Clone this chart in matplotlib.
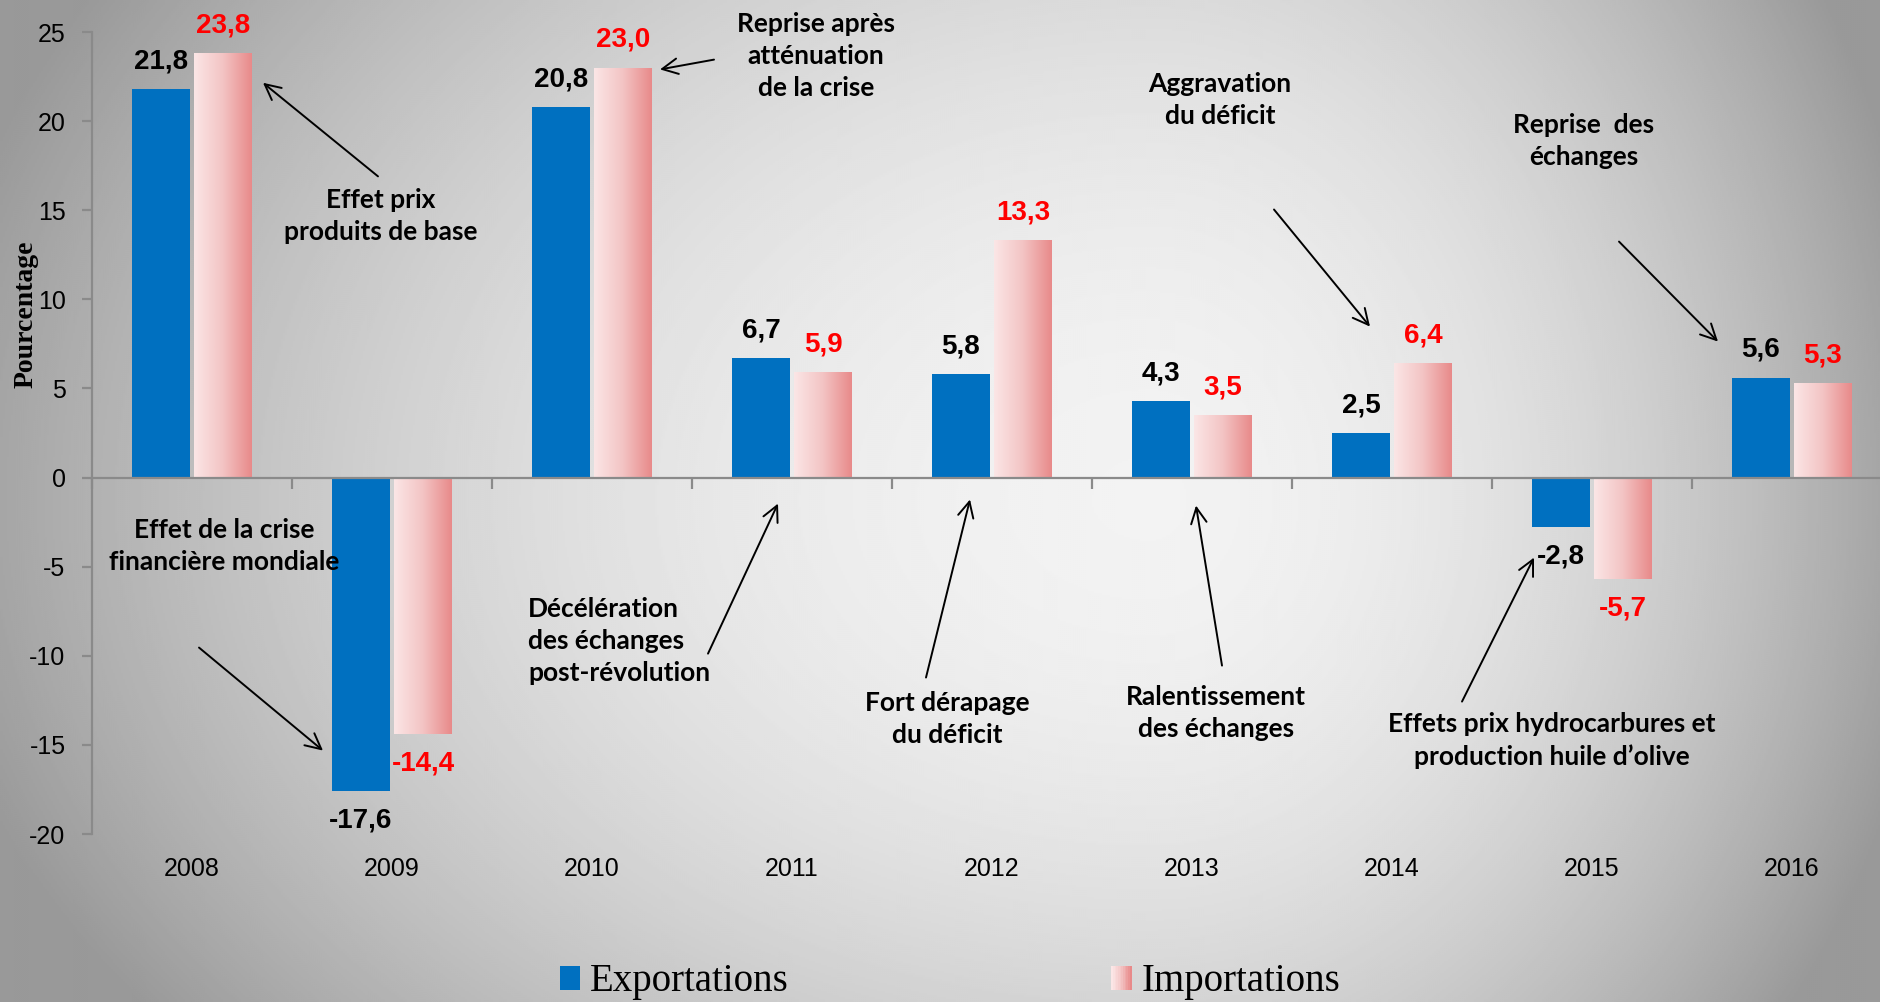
import numpy as np
import matplotlib
matplotlib.use("Agg")
import matplotlib.pyplot as plt
import matplotlib.transforms as mtransforms
from matplotlib.colors import LinearSegmentedColormap
from matplotlib.legend_handler import HandlerBase
from matplotlib.patches import Rectangle

# ---------------- data ----------------
years = ["2008", "2009", "2010", "2011", "2012", "2013", "2014", "2015", "2016"]
exportations = [21.8, -17.6, 20.8, 6.7, 5.8, 4.3, 2.5, -2.8, 5.6]
importations = [23.8, -14.4, 23.0, 5.9, 13.3, 3.5, 6.4, -5.7, 5.3]
series_labels = ["Exportations", "Importations"]
y_ticks = [-20, -15, -10, -5, 0, 5, 10, 15, 20, 25]
y_label = "Pourcentage"

# annotation texts (layout kept separately below)
notes = [
    "Effet prix\nproduits de base",
    "Reprise après\natténuation\nde la crise",
    "Aggravation\ndu déficit",
    "Reprise  des\néchanges",
    "Effet de la crise\nfinancière mondiale",
    "Décélération\ndes échanges\npost-révolution",
    "Fort dérapage\ndu déficit",
    "Ralentissement\ndes échanges",
    "Effets prix hydrocarbures et\nproduction huile d’olive",
]
# layout: (text x, text y, ha, arrow tail x, tail y, head x, head y) in data coords
note_layout = [
    (0.945, 14.65, "center", 0.93, 16.9, 0.355, 22.15),
    (3.12, 23.68, "center", 2.61, 23.45, 2.34, 22.9),
    (5.14, 21.16, "center", 5.41, 15.04, 5.89, 8.47),
    (6.96, 18.86, "center", 7.135, 13.24, 7.63, 7.63),
    (0.16, -3.82, "center", 0.035, -9.54, 0.655, -15.32),
    (1.68, -9.15, "left", 2.58, -9.88, 2.93, -1.46),
    (3.775, -13.52, "center", 3.67, -11.22, 3.89, -1.23),
    (5.12, -13.19, "center", 5.15, -10.55, 5.02, -1.57),
    (6.80, -14.76, "center", 6.35, -12.57, 6.71, -4.49),
]

NARROW = ["Liberation Sans", "DejaVu Sans"]
NOTE_FONT = ["Lato", "DejaVu Sans"]
SERIF = ["Liberation Serif", "DejaVu Serif"]

BLUE = "#0070C0"
pink_cmap = LinearSegmentedColormap.from_list("pinkgrad", ["#fbe6e6", "#f3c4c4", "#e88a8a"])
AXIS_GRAY = "#8a8a8a"

W_PX, H_PX = 1881, 1002
fig = plt.figure(figsize=(W_PX / 100, H_PX / 100), dpi=100)

# ---------------- background gradient ----------------
bg_ax = fig.add_axes([0, 0, 1, 1], zorder=0)
bg_ax.axis("off")
gy, gx = np.mgrid[0:H_PX:2, 0:W_PX:2].astype(float)
xc, yc = 1150.0, 500.0
tx = np.where(gx < xc, (xc - gx) / xc, (gx - xc) / (W_PX - xc))
ty = np.where(gy < yc, (yc - gy) / 900.0, (gy - yc) / 800.0)
t2 = tx ** 2 + ty ** 2
bg = np.clip(0.95 - 0.30 * t2, 0.60, 1.0)
bg_ax.imshow(bg, cmap="gray", vmin=0, vmax=1, aspect="auto",
             extent=(0, 1, 0, 1), interpolation="bilinear")
bg_ax.set_xlim(0, 1)
bg_ax.set_ylim(0, 1)

# ---------------- main axes ----------------
ax = fig.add_axes([92 / W_PX, 1 - 834 / H_PX, 1800 / W_PX, 802 / H_PX], zorder=1)
ax.set_facecolor("none")

x = np.arange(len(years))
bw, off = 0.29, 0.155
b1 = ax.bar(x - off, exportations, bw, color=BLUE, zorder=3, label=series_labels[0])
b2 = ax.bar(x + off, importations, bw, color="#f2b8b8", zorder=3, label=series_labels[1])

grad = np.linspace(0, 1, 256).reshape(1, -1)
for rect in b2:
    x0 = rect.get_x()
    y0 = rect.get_y()
    h = rect.get_height()
    ax.imshow(grad, cmap=pink_cmap, aspect="auto", interpolation="bilinear",
              extent=(x0, x0 + rect.get_width(), min(y0, y0 + h), max(y0, y0 + h)),
              zorder=3.5)


def fmt(v):
    return f"{v:.1f}".replace(".", ",")


for bars, vals, col in ((b1, exportations, "black"), (b2, importations, "#ff0000")):
    for rect, v in zip(bars, vals):
        ax.annotate(fmt(v), xy=(rect.get_x() + rect.get_width() / 2, v),
                    xytext=(0, 20 if v >= 0 else -21), textcoords="offset points",
                    ha="center", va="center", fontsize=20, fontweight="bold",
                    color=col, family=NARROW, zorder=5)

ax.set_xlim(-0.5, len(years) - 0.5)
ax.set_ylim(min(y_ticks), max(y_ticks))

for s in ("top", "right"):
    ax.spines[s].set_visible(False)
ax.spines["left"].set_color(AXIS_GRAY)
ax.spines["left"].set_linewidth(1.6)
ax.spines["bottom"].set_position(("data", 0))
ax.spines["bottom"].set_color(AXIS_GRAY)
ax.spines["bottom"].set_linewidth(1.6)
ax.spines["bottom"].set_zorder(4)

ax.set_xticks(np.arange(-0.5, len(years), 1.0))
ax.set_xticklabels([])
ax.tick_params(axis="x", direction="out", length=8, width=1.6, color=AXIS_GRAY)
ax.set_yticks(y_ticks)
ax.set_yticklabels([str(t) for t in y_ticks])
ax.tick_params(axis="y", direction="out", length=7, width=1.6, color=AXIS_GRAY,
               pad=12, labelsize=18)
for lab in ax.get_yticklabels():
    lab.set_family(NARROW)

trans = mtransforms.blended_transform_factory(ax.transData, ax.transAxes)
for i, yr in enumerate(years):
    ax.text(i, -0.0436, yr, transform=trans, ha="center", va="center",
            fontsize=18, family=NARROW)

fig.text(26 / W_PX, 1 - 314 / H_PX, y_label, rotation=90, ha="center", va="center",
         fontsize=20, fontweight="bold", family=SERIF)

# annotations
for txt, (tx_, ty_, ha, ax0, ay0, ax1, ay1) in zip(notes, note_layout):
    ax.text(tx_, ty_, txt, ha=ha, va="center", multialignment=ha,
            fontsize=19, fontweight="bold", family=NOTE_FONT, linespacing=1.4, zorder=6)
    ax.annotate("", xy=(ax1, ay1), xytext=(ax0, ay0),
                arrowprops=dict(arrowstyle="->", color="black", lw=1.4,
                                mutation_scale=28, shrinkA=0, shrinkB=0),
                zorder=6)


# ---------------- legend ----------------
class GradHandler(HandlerBase):
    def create_artists(self, legend, orig_handle, xdescent, ydescent, width,
                       height, fontsize, trans):
        n = 12
        arts = []
        for k in range(n):
            r = Rectangle((-xdescent + k * width / n, -ydescent), width / n + 0.3, height,
                          facecolor=pink_cmap(k / (n - 1)), edgecolor="none",
                          transform=trans)
            arts.append(r)
        return arts


fig.legend(handles=[b1, b2], labels=series_labels, loc="center",
           bbox_to_anchor=(950 / W_PX, 1 - 982 / H_PX), ncol=2, frameon=False,
           prop={"family": SERIF, "size": 28}, handlelength=0.51, handleheight=0.57,
           handletextpad=0.26, columnspacing=8.3, borderpad=0,
           handler_map={b2: GradHandler()})

fig.savefig("out.png", dpi=100)
